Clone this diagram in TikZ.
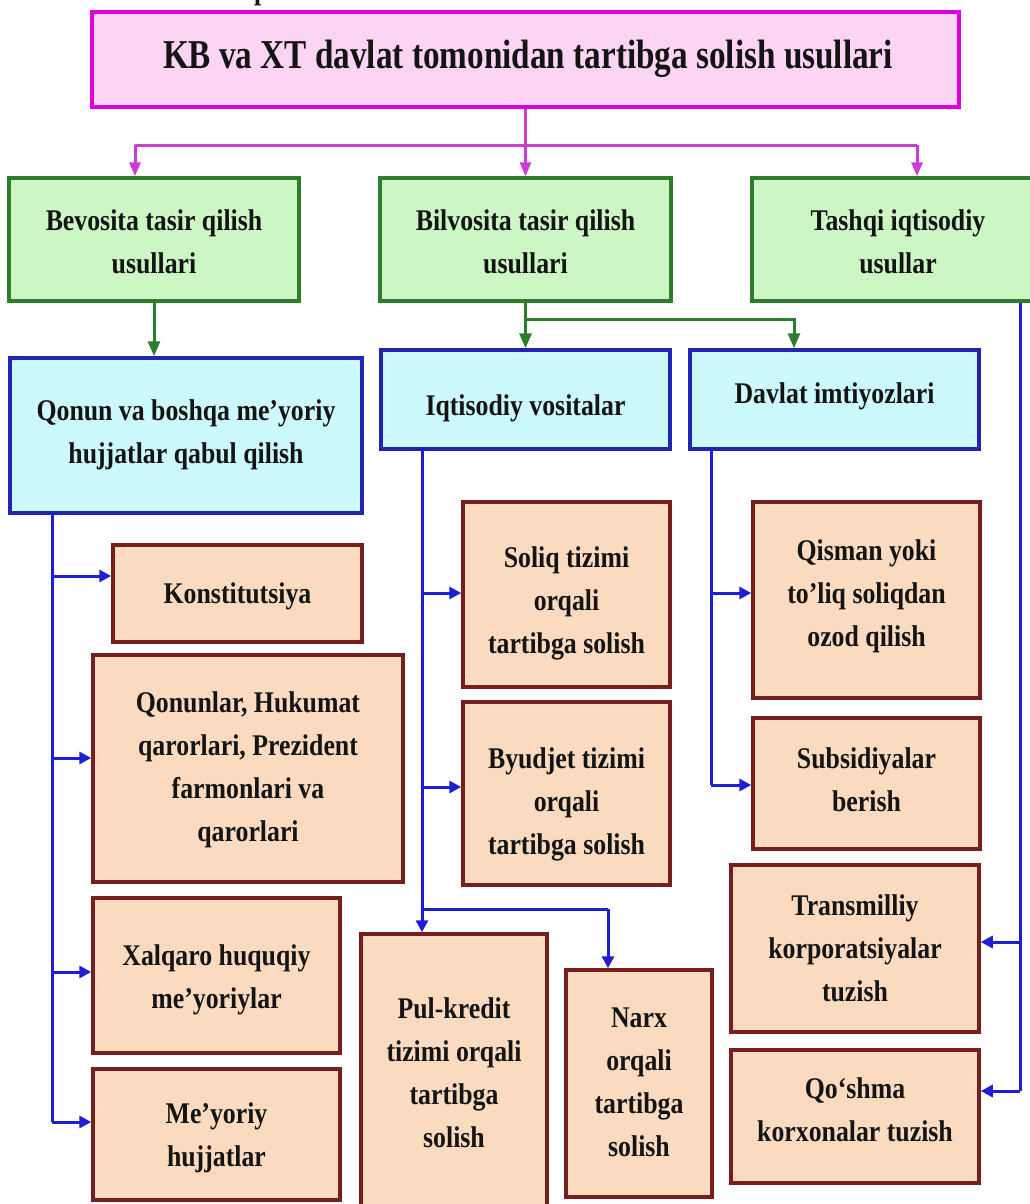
\documentclass[tikz,border=0pt]{standalone}
\usepackage{fontspec}
\setmainfont{Liberation Serif}[FakeStretch=0.86]
\newfontfamily\titlefam{Liberation Serif}[FakeStretch=0.81]
\usetikzlibrary{arrows.meta}
\definecolor{pinkF}{RGB}{252,212,244}
\definecolor{magB}{RGB}{220,0,220}
\definecolor{magL}{RGB}{205,60,210}
\definecolor{grnF}{RGB}{204,246,196}
\definecolor{grnB}{RGB}{45,125,45}
\definecolor{bluF}{RGB}{204,250,252}
\definecolor{bluB}{RGB}{35,35,180}
\definecolor{bluL}{RGB}{30,30,215}
\definecolor{orF}{RGB}{251,219,192}
\definecolor{redB}{RGB}{120,30,30}
\definecolor{ink}{RGB}{20,20,20}
\newcommand\bodyfont{\fontsize{30}{43}\selectfont\bfseries}
\newcommand\tstrut{\rule{0pt}{22pt}}
\newcommand\bx[6]{\node[#1, minimum width={(#5)-(#3)}, minimum height={(#6)-(#4)}] (#2) at ({(#3+#5)/2},{(#4+#6)/2}) {};}
\tikzset{
  anybox/.style={rectangle, inner sep=0pt},
  tbox/.style={anybox, draw=magB, fill=pinkF, line width=4pt},
  gbox/.style={anybox, draw=grnB, fill=grnF, line width=3.5pt},
  bbox/.style={anybox, draw=bluB, fill=bluF, line width=3.5pt},
  obox/.style={anybox, draw=redB, fill=orF, line width=3.5pt},
  txt/.style={anchor=north, inner sep=0pt, align=center, text=ink, font=\bodyfont},
  mcon/.style={draw=magL, line width=3pt},
  marr/.style={mcon, -{Triangle[length=14pt,width=11pt]}},
  gcon/.style={draw=grnB, line width=3pt},
  garr/.style={gcon, -{Triangle[length=15pt,width=12pt]}},
  bcon/.style={draw=bluL, line width=3pt},
  barr/.style={bcon, -{Triangle[length=12pt,width=12pt]}}
}
\begin{document}
\begin{tikzpicture}[x=1pt,y=-1pt]
\clip (0,0) rectangle (1030,1204);
\fill[white] (0,0) rectangle (1030,1204);
% fragment of text above the title
\node[anchor=base west, inner sep=0pt, text=ink, font=\bodyfont] (frag) at (254,0) {p};
% boxes
\bx{tbox}{title}{92}{12}{959}{107}
\bx{gbox}{G1}{9}{178}{299}{301}
\bx{gbox}{G2}{380}{178}{671}{301}
\bx{gbox}{G3}{752}{178}{1045}{301}
\bx{bbox}{B1}{10}{358}{362}{513}
\bx{bbox}{B2}{381}{350}{670}{449}
\bx{bbox}{B3}{690}{350}{979}{449}
\bx{obox}{konst}{113}{545}{362}{642}
\bx{obox}{qonun}{93}{655}{403}{882}
\bx{obox}{xalq}{93}{898}{340}{1053}
\bx{obox}{meyor}{93}{1069}{340}{1200}
\bx{obox}{soliq}{463}{502}{670}{687}
\bx{obox}{byud}{463}{702}{670}{885}
\bx{obox}{pul}{361}{934}{547}{1215}
\bx{obox}{narx}{566}{970}{712}{1197}
\bx{obox}{qism}{753}{502}{980}{698}
\bx{obox}{subs}{753}{718}{980}{849}
\bx{obox}{trans}{731}{865}{979}{1032}
\bx{obox}{qosh}{731}{1050}{979}{1183}
% texts
\node[txt, font=\titlefam\fontsize{41}{48}\selectfont\bfseries] (titleT) at (528,38) {\rule{0pt}{30pt}KB va XT davlat tomonidan tartibga solish usullari};
\node[txt] (G1T) at (154,208) {\tstrut Bevosita tasir qilish\\usullari};
\node[txt] (G2T) at (525.5,208) {\tstrut Bilvosita tasir qilish\\usullari};
\node[txt] (G3T) at (898,208) {\tstrut Tashqi iqtisodiy\\usullar};
\node[txt] (B1T) at (186,398) {\tstrut Qonun va boshqa me’yoriy\\hujjatlar qabul qilish};
\node[txt] (B2T) at (525.5,393) {\tstrut Iqtisodiy vositalar};
\node[txt] (B3T) at (834.5,381) {\tstrut Davlat imtiyozlari};
\node[txt] (konstT) at (237.5,581) {\tstrut Konstitutsiya};
\node[txt] (qonunT) at (248,690) {\tstrut Qonunlar, Hukumat\\qarorlari, Prezident\\farmonlari va\\qarorlari};
\node[txt] (xalqT) at (216.5,943) {\tstrut Xalqaro huquqiy\\me’yoriylar};
\node[txt] (meyorT) at (216.5,1101) {\tstrut Me’yoriy\\hujjatlar};
\node[txt] (soliqT) at (566.5,545) {\tstrut Soliq tizimi\\orqali\\tartibga solish};
\node[txt] (byudT) at (566.5,746) {\tstrut Byudjet tizimi\\orqali\\tartibga solish};
\node[txt] (pulT) at (454,996) {\tstrut Pul-kredit\\tizimi orqali\\tartibga\\solish};
\node[txt] (narxT) at (639,1005) {\tstrut Narx\\orqali\\tartibga\\solish};
\node[txt] (qismT) at (866.5,538) {\tstrut Qisman yoki\\to’liq soliqdan\\ozod qilish};
\node[txt] (subsT) at (866.5,746) {\tstrut Subsidiyalar\\berish};
\node[txt] (transT) at (855,893) {\tstrut Transmilliy\\korporatsiyalar\\tuzish};
\node[txt] (qoshT) at (855,1076) {\tstrut Qo‘shma\\korxonalar tuzish};
% magenta connectors
\coordinate (mL) at (135,145);
\coordinate (mR) at (917,145);
\draw[mcon] (mL) -- (mR);
\draw[marr] (title.south) -- (G2.north);
\draw[marr] (mL) -- (mL |- G1.north);
\draw[marr] (mR) -- (mR |- G3.north);
% green connectors
\coordinate (gR) at (794,319);
\draw[garr] (G1.south) -- (G1.south |- B1.north);
\draw[garr] (G2.south) -- (B2.north);
\draw[garr] (G2.south |- gR) -- (gR) -- (gR |- B3.north);
% blue connectors, left
\coordinate (j1a) at (52,576);
\coordinate (j1b) at (52,758);
\coordinate (j1c) at (52,972);
\coordinate (j1d) at (52,1122);
\draw[bcon] (B1.south -| j1a) -- (j1d);
\draw[barr] (j1a) -- (j1a -| konst.west);
\draw[barr] (j1b) -- (j1b -| qonun.west);
\draw[barr] (j1c) -- (j1c -| xalq.west);
\draw[barr] (j1d) -- (j1d -| meyor.west);
% blue connectors, middle
\coordinate (j2a) at (422,593);
\coordinate (j2b) at (422,787);
\coordinate (j2c) at (422,909);
\coordinate (j2d) at (608,909);
\draw[bcon] (B2.south -| j2a) -- (j2c) -- (j2d);
\draw[barr] (j2a) -- (j2a -| soliq.west);
\draw[barr] (j2b) -- (j2b -| byud.west);
\draw[barr] (j2c) -- (j2c |- pul.north);
\draw[barr] (j2d) -- (j2d |- narx.north);
% blue connectors, right middle
\coordinate (j3a) at (711,593);
\coordinate (j3b) at (711,785);
\draw[bcon] (B3.south -| j3a) -- (j3b);
\draw[barr] (j3a) -- (j3a -| qism.west);
\draw[barr] (j3b) -- (j3b -| subs.west);
% blue connectors, far right
\coordinate (j4a) at (1020,942);
\coordinate (j4b) at (1020,1091);
\draw[bcon] (G3.south -| j4a) -- (j4b);
\draw[barr] (j4a) -- (j4a -| trans.east);
\draw[barr] (j4b) -- (j4b -| qosh.east);
\end{tikzpicture}
\end{document}
